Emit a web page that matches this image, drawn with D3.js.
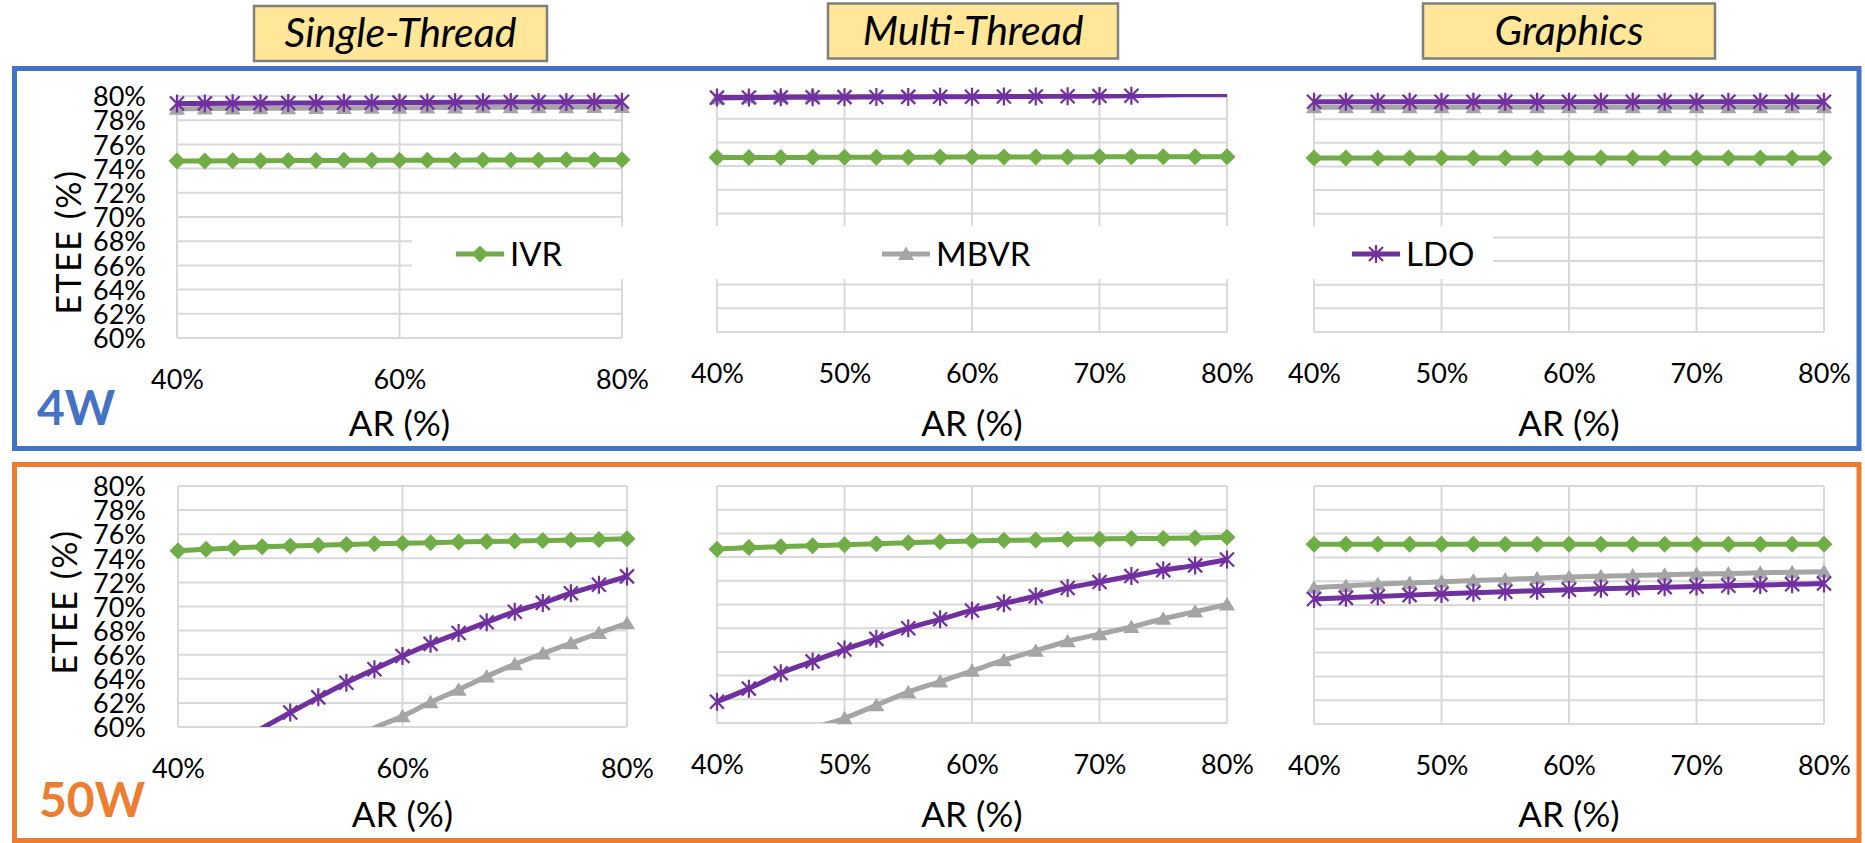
<!DOCTYPE html>
<html>
<head>
<meta charset="utf-8">
<script src="https://cdn.jsdelivr.net/npm/d3@7/dist/d3.min.js"></script>
<style>
  body { margin: 0; background: #fff; }
  svg { display: block; font-family: Lato, "Open Sans", sans-serif; }
</style>
</head>
<body>
<script>
// x categories: area ratio, %
const arLevels = [40, 42.5, 45, 47.5, 50, 52.5, 55, 57.5, 60, 62.5, 65, 67.5, 70, 72.5, 75, 77.5, 80];
const etTicks = [60, 62, 64, 66, 68, 70, 72, 74, 76, 78, 80];
const stTicks = [40, 60, 80];
const mtTicks = [40, 50, 60, 70, 80];

const seriesNames = ['IVR', 'MBVR', 'LDO'];
const workloads = ['Single-Thread', 'Multi-Thread', 'Graphics'];
const powerLevels = ['4W', '50W'];

// 4W
const st4wIVR = [74.62, 74.63, 74.64, 74.65, 74.66, 74.67, 74.68, 74.68, 74.69, 74.70, 74.70, 74.71, 74.72, 74.72, 74.73, 74.73, 74.74];
const st4wMBVR = [78.95, 78.96, 78.97, 78.98, 78.99, 79.00, 79.01, 79.02, 79.03, 79.04, 79.05, 79.06, 79.06, 79.07, 79.08, 79.09, 79.10];
const st4wLDO = [79.38, 79.39, 79.40, 79.41, 79.42, 79.43, 79.44, 79.45, 79.46, 79.47, 79.48, 79.49, 79.50, 79.50, 79.51, 79.52, 79.53];

const mt4wIVR = [74.72, 74.73, 74.73, 74.74, 74.74, 74.75, 74.75, 74.76, 74.76, 74.77, 74.77, 74.77, 74.78, 74.78, 74.78, 74.79, 74.79];
const mt4wMBVR = [79.70, 79.78, 79.85, 79.93, 80.02, 80.10, 80.18, 80.25, 80.32, 80.38, 80.44, 80.50, 80.55, 80.60, 80.65, 80.70, 80.74];
const mt4wLDO = [79.78, 79.79, 79.80, 79.81, 79.82, 79.83, 79.84, 79.85, 79.86, 79.87, 79.88, 79.90, 79.91, 79.93, 80.01, 80.02, 80.03];

const gr4wIVR = [74.72, 74.72, 74.72, 74.72, 74.72, 74.72, 74.72, 74.72, 74.72, 74.72, 74.72, 74.72, 74.72, 74.72, 74.72, 74.72, 74.72];
const gr4wMBVR = [79.00, 79.00, 79.00, 79.00, 79.00, 79.00, 79.00, 79.00, 79.00, 79.00, 79.00, 79.00, 79.00, 79.00, 79.00, 79.00, 79.00];
const gr4wLDO = [79.47, 79.47, 79.47, 79.47, 79.47, 79.47, 79.47, 79.47, 79.47, 79.47, 79.47, 79.47, 79.47, 79.47, 79.47, 79.47, 79.47];

// 50W
const st50IVR = [74.63, 74.76, 74.86, 74.95, 75.02, 75.09, 75.15, 75.20, 75.25, 75.30, 75.35, 75.39, 75.43, 75.47, 75.51, 75.56, 75.63];
const st50MBVR = [50.2, 51.7, 53.1, 54.5, 55.9, 57.2, 58.6, 59.92, 60.9, 62.05, 63.1, 64.2, 65.2, 66.1, 66.95, 67.8, 68.6];
const st50LDO = [55.5, 57.0, 58.5, 59.9, 61.2, 62.46, 63.68, 64.8, 65.9, 66.9, 67.8, 68.7, 69.57, 70.3, 71.1, 71.8, 72.5];

const mt50IVR = [74.66, 74.80, 74.88, 74.96, 75.05, 75.13, 75.22, 75.30, 75.36, 75.42, 75.44, 75.50, 75.53, 75.56, 75.58, 75.61, 75.67];
const mt50MBVR = [55.6, 56.9, 58.2, 59.5, 60.4, 61.5, 62.6, 63.5, 64.4, 65.3, 66.1, 66.9, 67.5, 68.1, 68.8, 69.4, 70.0];
const mt50LDO = [61.8, 62.9, 64.2, 65.2, 66.2, 67.1, 68.0, 68.75, 69.5, 70.1, 70.7, 71.4, 71.9, 72.4, 72.9, 73.3, 73.8];

const gr50IVR = [75.10, 75.10, 75.10, 75.10, 75.10, 75.10, 75.10, 75.10, 75.10, 75.10, 75.10, 75.10, 75.10, 75.10, 75.10, 75.10, 75.10];
const gr50MBVR = [71.45, 71.60, 71.75, 71.85, 71.95, 72.05, 72.15, 72.25, 72.35, 72.42, 72.48, 72.54, 72.60, 72.65, 72.70, 72.75, 72.80];
const gr50LDO = [70.50, 70.60, 70.72, 70.83, 70.93, 71.03, 71.12, 71.20, 71.28, 71.36, 71.43, 71.50, 71.56, 71.62, 71.68, 71.74, 71.80];

const colors = { IVR: '#70AD47', MBVR: '#A5A5A5', LDO: '#7030A0' };
const gridColor = '#D9D9D9';

// plot rectangles, in page pixels
const panels = [
    { id: 'st4w', left: 177, right: 622, top: 96, bottom: 338, xTicks: stTicks, yTitle: [81, 242], data: [st4wIVR, st4wMBVR, st4wLDO] },
    { id: 'mt4w', left: 717, right: 1227, top: 95, bottom: 332, xTicks: mtTicks, data: [mt4wIVR, mt4wMBVR, mt4wLDO] },
    { id: 'gr4w', left: 1314, right: 1824, top: 95.5, bottom: 332, xTicks: mtTicks, data: [gr4wIVR, gr4wMBVR, gr4wLDO] },
    { id: 'st50', left: 178, right: 627, top: 486, bottom: 727, xTicks: stTicks, yTitle: [77, 602], data: [st50IVR, st50MBVR, st50LDO] },
    { id: 'mt50', left: 717, right: 1227, top: 486, bottom: 723, xTicks: mtTicks, data: [mt50IVR, mt50MBVR, mt50LDO] },
    { id: 'gr50', left: 1314, right: 1824, top: 486, bottom: 724, xTicks: mtTicks, data: [gr50IVR, gr50MBVR, gr50LDO] }
];

const svg = d3.select('body')
    .append('svg')
    .attr('width', 1865)
    .attr('height', 843);

const defs = svg.append('defs');

function marker(sel, name) {
    if (name === 'IVR') {
        sel.append('path')
            .attr('d', 'M0,-8.5L8.5,0L0,8.5L-8.5,0Z')
            .attr('fill', colors.IVR);
    } else if (name === 'MBVR') {
        sel.append('path')
            .attr('d', 'M0,-7.5L8,6L-8,6Z')
            .attr('fill', colors.MBVR);
    } else {
        sel.append('path')
            .attr('d', 'M0,-9V9M-7,-7L7,7M-7,7L7,-7')
            .attr('stroke', colors.LDO)
            .attr('stroke-width', 2.2)
            .attr('fill', 'none');
    }
}

function drawPanel(p) {
    const x = d3.scaleLinear().domain([40, 80]).range([p.left, p.right]);
    const y = d3.scaleLinear().domain([60, 80]).range([p.bottom, p.top]);
    const g = svg.append('g').attr('class', 'panel');

    g.selectAll('line.h')
        .data(etTicks)
        .enter()
        .append('line')
        .attr('class', 'h')
        .attr('x1', p.left).attr('x2', p.right)
        .attr('y1', d => y(d)).attr('y2', d => y(d))
        .attr('stroke', gridColor).attr('stroke-width', 2);

    g.selectAll('line.v')
        .data(p.xTicks)
        .enter()
        .append('line')
        .attr('class', 'v')
        .attr('x1', d => x(d)).attr('x2', d => x(d))
        .attr('y1', p.top).attr('y2', p.bottom)
        .attr('stroke', gridColor).attr('stroke-width', 2);

    defs.append('clipPath')
        .attr('id', 'clip-' + p.id)
        .append('rect')
        .attr('x', p.left - 12).attr('y', p.top - 1)
        .attr('width', p.right - p.left + 24)
        .attr('height', p.bottom - p.top + 1);

    const line = d3.line()
        .x((d, i) => x(arLevels[i]))
        .y(d => y(d))
        .curve(d3.curveMonotoneX);

    p.data.forEach((vals, k) => {
        const name = seriesNames[k];
        g.append('path')
            .datum(vals)
            .attr('d', line)
            .attr('fill', 'none')
            .attr('stroke', colors[name])
            .attr('stroke-width', 5)
            .attr('stroke-linejoin', 'round')
            .attr('clip-path', `url(#clip-${p.id})`);

        const pts = vals.map((v, i) => [arLevels[i], v]).filter(d => d[1] >= 60 && d[1] <= 80);
        g.selectAll(null)
            .data(pts)
            .enter()
            .append('g')
            .attr('transform', d => `translate(${x(d[0])},${y(d[1])})`)
            .each(function () { marker(d3.select(this), name); });
    });

    // tick labels through the axis generators
    const xAxis = d3.axisBottom(x)
        .tickValues(p.xTicks)
        .tickFormat(d => d + '%')
        .tickSize(0);
    g.append('g')
        .attr('transform', `translate(0,${p.bottom})`)
        .call(xAxis)
        .call(a => a.select('.domain').remove())
        .call(a => a.selectAll('text')
            .attr('y', 51).attr('dy', null)
            .attr('font-family', 'Lato').attr('font-size', 27).attr('fill', '#000'));

    if (p.yTitle) {
        const yAxis = d3.axisLeft(y)
            .tickValues(etTicks)
            .tickFormat(d => d + '%')
            .tickSize(0)
            .tickPadding(p.left - 146);
        g.append('g')
            .attr('transform', `translate(${p.left},0)`)
            .call(yAxis)
            .call(a => a.select('.domain').remove())
            .call(a => a.selectAll('text')
                .attr('dy', '0.36em')
                .attr('font-family', 'Lato').attr('font-size', 27).attr('fill', '#000'));

        g.append('text')
            .attr('transform', `translate(${p.yTitle[0]},${p.yTitle[1]}) rotate(-90)`)
            .attr('text-anchor', 'middle')
            .attr('font-size', 34)
            .attr('letter-spacing', 1.5)
            .text('ETEE (%)');
    }

    g.append('text')
        .attr('x', (p.left + p.right) / 2)
        .attr('y', p.top < 300 ? 436 : 827)
        .attr('text-anchor', 'middle')
        .attr('font-size', 35)
        .text('AR (%)');
}

// frames for the two power levels
const frames = [
    { label: powerLevels[0], color: '#4472C4', y0: 68.5, y1: 448.5, lx: 37, ly: 425 },
    { label: powerLevels[1], color: '#ED7D31', y0: 464.5, y1: 840.5, lx: 39, ly: 817 }
];

frames.forEach(f => {
    svg.append('rect')
        .attr('x', 14.5).attr('y', f.y0)
        .attr('width', 1844.5).attr('height', f.y1 - f.y0)
        .attr('fill', 'none')
        .attr('stroke', f.color)
        .attr('stroke-width', 5);
});

panels.forEach(drawPanel);

frames.forEach(f => {
    svg.append('text')
        .attr('x', f.lx).attr('y', f.ly)
        .attr('font-size', 48)
        .attr('font-weight', 'bold')
        .attr('fill', f.color)
        .text(f.label);
});

// workload title boxes
const titleBoxes = [
    { x: 254, y: 6, w: 293 },
    { x: 828, y: 3.5, w: 290 },
    { x: 1423, y: 3.5, w: 292 }
];

titleBoxes.forEach((b, i) => {
    svg.append('rect')
        .attr('x', b.x).attr('y', b.y)
        .attr('width', b.w).attr('height', 55)
        .attr('fill', '#FFE699')
        .attr('stroke', '#7F7F7F')
        .attr('stroke-width', 2.5);
    svg.append('text')
        .attr('x', b.x + b.w / 2).attr('y', b.y + 41)
        .attr('text-anchor', 'middle')
        .attr('font-size', 41)
        .attr('font-style', 'italic')
        .text(workloads[i]);
});

// one legend laid over the 4W row
const legend = svg.append('g');
legend.append('rect')
    .attr('x', 412).attr('y', 226)
    .attr('width', 1081).attr('height', 53)
    .attr('fill', '#fff');

const legendX = [456, 882, 1352];
seriesNames.forEach((name, i) => {
    const item = legend.append('g').attr('transform', `translate(${legendX[i]},254)`);
    item.append('line')
        .attr('x1', 0).attr('x2', 48)
        .attr('stroke', colors[name])
        .attr('stroke-width', 5);
    marker(item.append('g').attr('transform', 'translate(24,0)'), name);
    item.append('text')
        .attr('x', 54).attr('y', 12)
        .attr('font-size', 33)
        .text(name);
});
</script>
</body>
</html>
